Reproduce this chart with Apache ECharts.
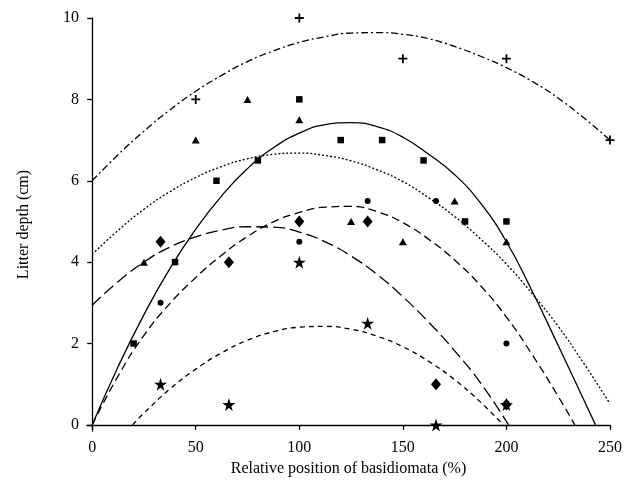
<!DOCTYPE html>
<html>
  <head>
    <meta charset="UTF-8" />
    <title></title>
    <style type="text/css">
      * {
        margin: 0;
        padding: 0;
      }
      #main {
        width: 639px;
        height: 496px;
        background-color: #fff;
      }
    </style>
  </head>
  <body>
    <div id="main"></div>
  </body>
  <script src="https://cdn.jsdelivr.net/npm/echarts@6/dist/echarts.min.js"></script>
  <script type="text/javascript">
    // observed points (x = relative position %, y = litter depth cm)
    var squareX = [20, 40, 60, 80, 100, 120, 140, 160, 180, 200]
    var squareY = [2, 4, 6, 6.5, 8, 7, 7, 6.5, 5, 5]
    var triangleX = [25, 50, 75, 100, 125, 150, 175, 200]
    var triangleY = [4, 7, 8, 7.5, 5, 4.5, 5.5, 4.5]
    var circleX = [33, 100, 133, 166, 200]
    var circleY = [3, 4.5, 5.5, 5.5, 2]
    var diamondX = [33, 66, 100, 133, 166, 200]
    var diamondY = [4.5, 4, 5, 5, 1, 0.5]
    var starX = [33, 66, 100, 133, 166, 200]
    var starY = [1, 0.5, 4, 2.5, 0, 0.5]
    var crossX = [50, 100, 150, 200, 250]
    var crossY = [8, 10, 9, 9, 7]

    // fitted curves
    var solidX = [0, 12.5, 25, 37.5, 50, 62.5, 75, 87.5, 100, 112.5, 125, 137.5, 150, 162.5, 175, 187.5, 200, 212.5, 225, 237.5, 243]
    var solidY = [0, 1.43, 2.71, 3.84, 4.81, 5.63, 6.3, 6.81, 7.17, 7.38, 7.43, 7.33, 7.07, 6.65, 6.15, 5.45, 4.5, 3.28, 1.95, 0.6, 0]
    var dottedX = [0, 12.5, 25, 37.5, 50, 62.5, 75, 87.5, 100, 112.5, 125, 137.5, 150, 162.5, 175, 187.5, 200, 212.5, 225, 237.5, 250]
    var dottedY = [4.19, 4.78, 5.3, 5.73, 6.08, 6.35, 6.54, 6.65, 6.68, 6.62, 6.49, 6.27, 5.98, 5.58, 5.12, 4.57, 3.95, 3.22, 2.42, 1.5, 0.52]
    var mediumX = [0, 12.5, 25, 37.5, 50, 62.5, 75, 87.5, 100, 112.5, 125, 137.5, 150, 162.5, 175, 187.5, 200, 212.5, 225, 233]
    var mediumY = [0, 1.2, 2.2, 2.98, 3.62, 4.17, 4.63, 4.99, 5.22, 5.35, 5.37, 5.24, 4.97, 4.56, 4.05, 3.42, 2.65, 1.72, 0.7, 0]
    var longX = [0, 12.5, 25, 37.5, 50, 62.5, 75, 87.5, 100, 112.5, 125, 137.5, 150, 162.5, 175, 187.5, 201]
    var longY = [2.94, 3.52, 4.0, 4.37, 4.62, 4.79, 4.87, 4.86, 4.74, 4.5, 4.15, 3.7, 3.15, 2.52, 1.82, 1.03, 0]
    var shortX = [19.5, 25, 37.5, 50, 62.5, 75, 87.5, 100, 112.5, 125, 137.5, 150, 162.5, 175, 187.5, 198.5]
    var shortY = [0, 0.29, 0.88, 1.37, 1.77, 2.08, 2.29, 2.4, 2.42, 2.35, 2.18, 1.92, 1.56, 1.11, 0.56, 0]
    var dashDotX = [0, 12.5, 25, 37.5, 50, 62.5, 75, 87.5, 100, 112.5, 125, 137.5, 150, 162.5, 175, 187.5, 200, 212.5, 225, 237.5, 250]
    var dashDotY = [6.0, 6.64, 7.22, 7.74, 8.2, 8.59, 8.93, 9.19, 9.4, 9.54, 9.63, 9.64, 9.6, 9.49, 9.3, 9.06, 8.78, 8.44, 8.03, 7.54, 7.0]

    var xTicks = [0, 50, 100, 150, 200, 250]
    var yTicks = [0, 2, 4, 6, 8, 10]

    var starPath = 'path://M50,0 L61,35 L98,35 L68,57 L79,91 L50,70 L21,91 L32,57 L2,35 L39,35 Z'
    var plusPath = 'path://M4,0 H6 V4 H10 V6 H6 V10 H4 V6 H0 V4 H4 Z'

    function pairs(xs, ys) {
      return xs.map(function (x, i) {
        return [x, ys[i]]
      })
    }

    function curve(xs, ys, dash) {
      return {
        type: 'line',
        data: pairs(xs, ys),
        smooth: 0.5,
        smoothConstraint: false,
        symbol: 'none',
        silent: true,
        lineStyle: { color: '#000', width: 1.3, type: dash }
      }
    }

    function points(xs, ys, symbol, size, z) {
      return {
        type: 'scatter',
        data: pairs(xs, ys),
        symbol: symbol,
        symbolSize: size,
        itemStyle: { color: '#000', opacity: 1 },
        z: z || 5
      }
    }

    var font = 'Liberation Serif'
    var myCharts = echarts.init(document.getElementById('main'))
    var option = {
      animation: false,
      backgroundColor: '#fff',
      grid: { left: 87, right: 29, top: 18, bottom: 65 },
      xAxis: {
        type: 'value',
        min: -2.5,
        max: 250,
        name: 'Relative position of basidiomata (%)',
        nameLocation: 'middle',
        nameGap: 25,
        nameTextStyle: { fontFamily: font, fontSize: 16, color: '#000' },
        axisLine: { lineStyle: { color: '#000', width: 1.3 } },
        axisTick: { customValues: xTicks, length: 5, lineStyle: { color: '#000', width: 1.3 } },
        axisLabel: { customValues: xTicks, margin: 9, fontFamily: font, fontSize: 16, color: '#000' },
        splitLine: { show: false }
      },
      yAxis: {
        type: 'value',
        min: -0.15,
        max: 10,
        name: 'Litter depth (cm)',
        nameLocation: 'middle',
        nameGap: 55,
        nameTextStyle: { fontFamily: font, fontSize: 16, color: '#000' },
        axisLine: { show: true, lineStyle: { color: '#000', width: 1.3 } },
        axisTick: { show: true, customValues: yTicks, length: 5, lineStyle: { color: '#000', width: 1.3 } },
        axisLabel: { customValues: yTicks, margin: 8, fontFamily: font, fontSize: 16, color: '#000' },
        splitLine: { show: false }
      },
      series: [
        curve(dashDotX, dashDotY, [7, 3, 2, 3]),
        curve(solidX, solidY, 'solid'),
        curve(dottedX, dottedY, [2, 2]),
        curve(mediumX, mediumY, [8, 4.5]),
        curve(longX, longY, [12, 5]),
        curve(shortX, shortY, [5, 4]),
        points(squareX, squareY, 'rect', 6.5),
        points(triangleX, triangleY, 'triangle', [8, 7]),
        points(circleX, circleY, 'circle', 6),
        points(diamondX, diamondY, 'diamond', [10, 12]),
        points(starX, starY, starPath, 13, 6),
        points(crossX, crossY, plusPath, 9)
      ]
    }
    myCharts.setOption(option)
  </script>
</html>
